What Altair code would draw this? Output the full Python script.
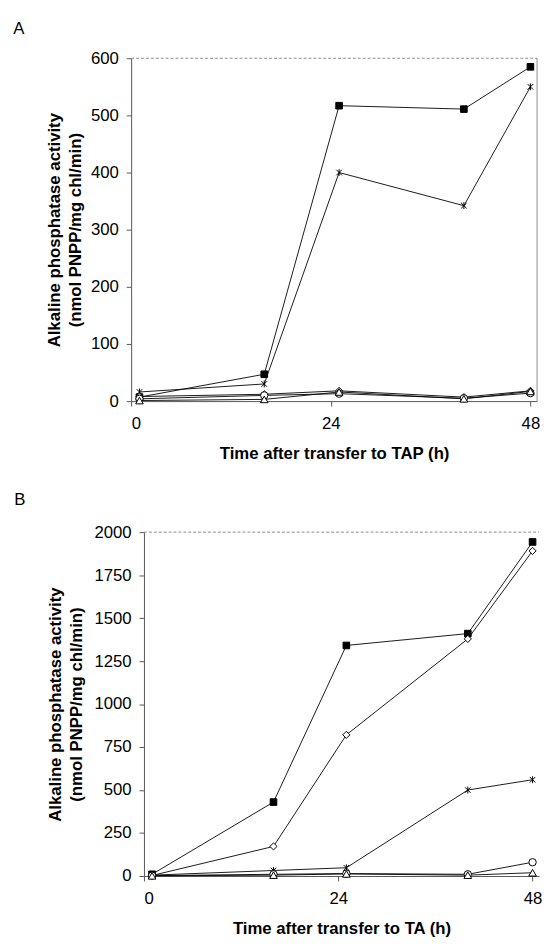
import altair as alt
import pandas as pd

# ---- data ----
times = [1, 16, 25, 40, 48]
series_names = ["filled square", "asterisk", "open diamond", "open circle", "open triangle"]

# Panel A (transfer to TAP)
a_square = [7, 47, 517, 511, 585]
a_asterisk = [16, 30, 400, 342, 550]
a_diamond = [8, 12, 18, 7, 18]
a_circle = [4, 10, 13, 5, 14]
a_triangle = [1, 3, 16, 4, 17]

# Panel B (transfer to TA)
b_square = [10, 430, 1341, 1410, 1943]
b_asterisk = [5, 32, 48, 500, 560]
b_diamond = [3, 172, 821, 1379, 1891]
b_circle = [2, 10, 14, 10, 80]
b_triangle = [1, 5, 12, 5, 19]

x_ticks = [0, 24, 48]
a_y_ticks = [0, 100, 200, 300, 400, 500, 600]
b_y_ticks = [0, 250, 500, 750, 1000, 1250, 1500, 1750, 2000]

y_title = ["Alkaline phosphatase activity", "(nmol PNPP/mg chl/min)"]

FONT = "Liberation Sans"
BORDER = "#8c8c8c"
ASTERISK = "M-0.8,-0.8L0.8,0.8M-0.8,0.8L0.8,-0.8M0,-1L0,1"


def long_df(values):
    rows = []
    for name, vals in zip(series_names, values):
        for t, v in zip(times, vals):
            rows.append({"series": name, "time": t, "activity": v})
    return pd.DataFrame(rows)


df_a = long_df([a_square, a_asterisk, a_diamond, a_circle, a_triangle])
df_b = long_df([b_square, b_asterisk, b_diamond, b_circle, b_triangle])


def panel(df, letter, ymax, yticks, xtitle, lx, ly, title_pad, x0, w, h, right_border):
    x = alt.X("time:Q", scale=alt.Scale(domain=[0, 48.8], nice=False, range=[x0, w]),
              axis=alt.Axis(values=x_ticks, title=xtitle, format="d",
                            labelPadding=10, titlePadding=14))
    y = alt.Y("activity:Q", scale=alt.Scale(domain=[0, ymax], nice=False),
              axis=alt.Axis(values=yticks, title=y_title, format="d", offset=-x0,
                            labelPadding=8, titlePadding=title_pad,
                            titleLineHeight=21))
    base = alt.Chart(df)
    lines = base.mark_line(color="black", strokeWidth=0.9).encode(
        x=x, y=y, detail="series:N", order="time:Q")
    pts = base.mark_point(color="black", strokeWidth=1, opacity=1).encode(
        x=x, y=y,
        shape=alt.Shape("series:N", legend=None,
                        scale=alt.Scale(domain=series_names,
                                        range=["square", ASTERISK, "diamond", "circle", "triangle-up"])),
        fill=alt.Fill("series:N", legend=None,
                      scale=alt.Scale(domain=series_names,
                                      range=["black", "white", "white", "white", "white"])),
        size=alt.Size("series:N", legend=None,
                      scale=alt.Scale(domain=series_names, range=[45, 60, 40, 40, 40])),
    )
    one = pd.DataFrame({"k": [0]})
    top = alt.Chart(one).mark_rule(color=BORDER, strokeWidth=1, strokeDash=[3, 2]).encode(
        x=alt.value(x0), x2=alt.value(w), y=alt.value(0))
    layers = [top]
    if right_border:
        layers.append(alt.Chart(one).mark_rule(color=BORDER, strokeWidth=1).encode(
            x=alt.value(w), y=alt.value(0), y2=alt.value(h)))
    lab = alt.Chart(pd.DataFrame({"t": [letter]})).mark_text(
        font=FONT, fontSize=17, align="center", baseline="middle", color="black"
    ).encode(text="t:N", x=alt.value(lx), y=alt.value(ly))
    return alt.layer(*layers, lines, pts, lab).properties(width=w, height=h)


chart_a = panel(df_a, "A", 600, a_y_ticks, "Time after transfer to TAP (h)",
                -114, -30, 6, 0, 412, 348, True)
chart_b = panel(df_b, "B", 2000, b_y_ticks, "Time after transfer to TA (h)",
                -113, -33, 9, 13, 414, 349, False)

chart = alt.vconcat(chart_a, chart_b, spacing=30).properties(
    padding={"left": 5, "top": 5, "right": 0, "bottom": 0}
).configure_view(
    strokeWidth=0
).configure_axis(
    grid=False,
    labelFont=FONT, labelFontSize=17, labelColor="black",
    titleFont=FONT, titleFontSize=17, titleFontWeight="bold", titleColor="black",
    domainColor="#555555", tickColor="#555555", tickSize=5, domainWidth=1,
)

chart.save("out.html", embed_options={"renderer": "svg", "actions": False})
